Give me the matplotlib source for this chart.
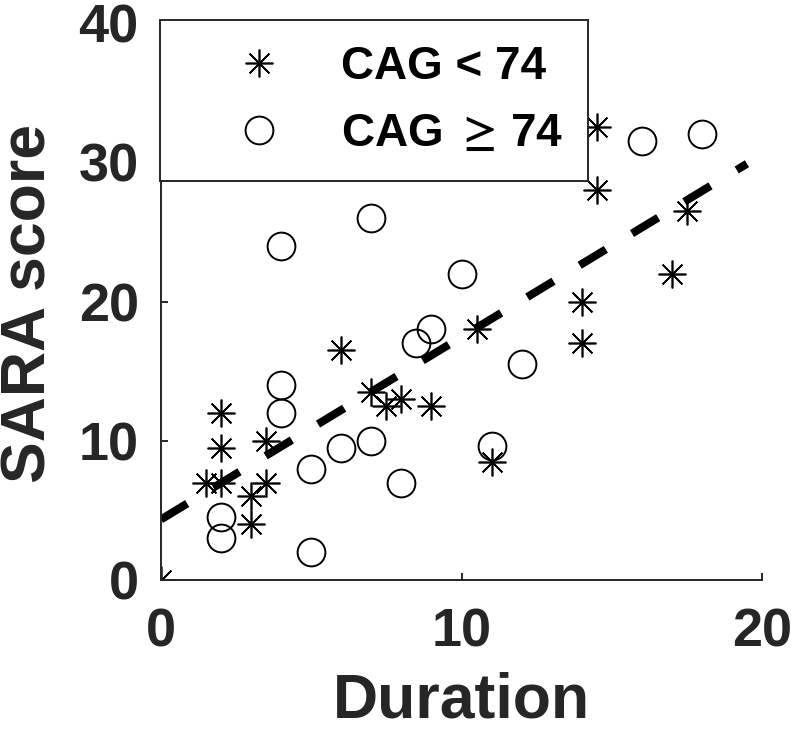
import matplotlib
matplotlib.use('Agg')
import matplotlib.pyplot as plt
import numpy as np

# Global
plt.rcParams['font.family'] = ['Liberation Sans', 'DejaVu Sans']
plt.rcParams['font.weight'] = 'bold'
plt.rcParams['axes.labelweight'] = 'bold'
plt.rcParams['mathtext.fontset'] = 'stix'

# Data: CAG < 74
dur_low = [0, 1.5, 2, 2, 2, 3, 3, 3.5, 3.5, 6, 7, 7.5, 8, 9, 10.5, 11, 14, 14, 14.5, 14.5, 17, 17.5]
sara_low = [0, 7, 7, 9.5, 12, 4, 6, 7, 10, 16.5, 13.5, 12.5, 13, 12.5, 18, 8.5, 17, 20, 28, 32.5, 22, 26.5]

# Data: CAG >= 74
dur_high = [2, 2, 4, 4, 4, 5, 5, 6, 7, 7, 8, 8.5, 9, 10, 11, 12, 16, 18]
sara_high = [3, 4.5, 12, 14, 24, 2, 8, 9.5, 10, 26, 7, 17, 18, 22, 9.6, 15.5, 31.5, 32]

# Trend line
fit_intercept = 4.35
fit_slope = 1.31
fit_range = [0, 19.5]

labels = ['CAG < 74', r'CAG $\geq\,$74']
xticks = [0, 10, 20]
yticks = [0, 10, 20, 30, 40]

fig = plt.figure(figsize=(7.94, 7.41), dpi=100)
ax = fig.add_axes([161 / 794, 1 - 580 / 741, 601 / 794, 557 / 741])

ax.plot(dur_low, sara_low, linestyle='none', marker=(8, 2, 0), markersize=20,
        markeredgewidth=1.2, color='k', label=labels[0])
ax.plot(dur_high, sara_high, linestyle='none', marker='o', markersize=20,
        markerfacecolor='none', markeredgewidth=1.4, color='k', label=labels[1])

fx = np.array(fit_range)
ax.plot(fx, fit_intercept + fit_slope * fx, color='k', linewidth=5.8,
        dashes=(3.8, 3.8), dash_capstyle='butt')

# axis
ax.set_xlim(0, 20)
ax.set_ylim(0, 40)
ax.set_xticks(xticks)
ax.set_yticks(yticks)
ax.tick_params(direction='in', length=5, width=1.4, colors='#262626',
               labelsize=39)
ax.tick_params(axis='x', pad=20)
ax.tick_params(axis='y', pad=16)
for s in ['top', 'right']:
    ax.spines[s].set_visible(False)
for s in ['left', 'bottom']:
    ax.spines[s].set_linewidth(1.4)
    ax.spines[s].set_color('#262626')

ax.set_xlabel('Duration', fontsize=45, fontweight='bold', color='#262626', va='center')
ax.set_ylabel('SARA score', fontsize=45, fontweight='bold', color='#262626', va='center')
ax.xaxis.set_label_coords(0.5, -0.218)
ax.yaxis.set_label_coords(-0.219, 0.497)

# legend
leg = ax.legend(loc='upper left', bbox_to_anchor=(160 / 794, 1 - 20 / 741),
                bbox_transform=fig.transFigure, borderaxespad=0,
                fontsize=33, fancybox=False, framealpha=1, edgecolor='#262626',
                handlelength=3.2, handletextpad=0.2, borderpad=0.55,
                labelspacing=0.5, numpoints=1)
leg.get_frame().set_linewidth(1.4)

fig.savefig('out.png', dpi=100, facecolor='white')
